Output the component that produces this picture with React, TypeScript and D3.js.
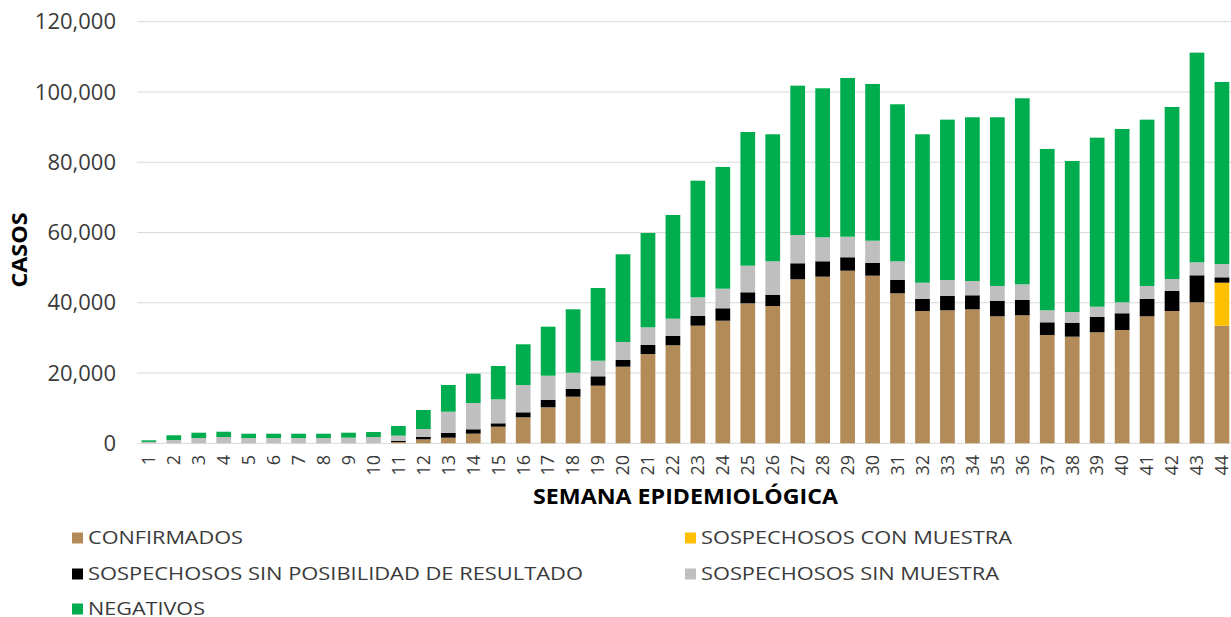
import React, { useEffect, useRef } from "react";
import * as d3 from "d3";

const weeks = [
  "1", "2", "3", "4", "5", "6", "7", "8", "9", "10", "11",
  "12", "13", "14", "15", "16", "17", "18", "19", "20", "21", "22",
  "23", "24", "25", "26", "27", "28", "29", "30", "31", "32", "33",
  "34", "35", "36", "37", "38", "39", "40", "41", "42", "43", "44",
];

const confirmados = [
  0, 0, 0, 0, 0, 0, 0, 0, 0, 0, 370,
  1140, 1600, 2740, 4730, 7400, 10250, 13270, 16400, 21810, 25420, 27900,
  33480, 34900, 39850, 39080, 46680, 47430, 49130, 47710, 42700, 37660, 37860,
  38140, 36150, 36440, 30830, 30350, 31600, 32250, 36150, 37660, 40140, 33480,
];

const conMuestra = [
  0, 0, 0, 0, 0, 0, 0, 0, 0, 0, 0,
  0, 0, 0, 0, 0, 0, 0, 0, 0, 0, 0,
  0, 0, 0, 0, 0, 0, 0, 0, 0, 0, 0,
  0, 0, 0, 0, 0, 0, 0, 0, 0, 0, 12240,
];

const sinPosibilidad = [
  0, 0, 0, 0, 0, 0, 0, 0, 0, 0, 280,
  650, 1330, 1250, 960, 1420, 2080, 2190, 2670, 1900, 2560, 2640,
  2760, 3530, 3130, 3220, 4560, 4380, 3820, 3610, 3780, 3420, 4070,
  3990, 4440, 4350, 3610, 3980, 4350, 4760, 4930, 5690, 7680, 1530,
];

const sinMuestra = [
  400, 940, 1510, 1790, 1510, 1510, 1510, 1510, 1600, 1790, 1530,
  2280, 6070, 7480, 6830, 7780, 6910, 4640, 4440, 5130, 5040, 4930,
  5320, 5580, 7580, 9510, 8050, 6830, 5860, 6350, 5330, 4640, 4550,
  4070, 4190, 4470, 3420, 3050, 2930, 3130, 3700, 3420, 3700, 3790,
];

const negativos = [
  450, 1340, 1510, 1510, 1220, 1220, 1220, 1220, 1420, 1420, 2750,
  5410, 7600, 8350, 9480, 11580, 13950, 18040, 20700, 24960, 26840, 29520,
  33190, 34640, 38050, 36150, 42510, 42410, 45180, 44610, 44690, 42240, 45640,
  46600, 48020, 52950, 45920, 42980, 48110, 49330, 47340, 48960, 59670, 51810,
];

const yTicks = [0, 20000, 40000, 60000, 80000, 100000, 120000];

const seriesKeys = ["conf", "conMuestra", "sinPos", "sinMuestra", "neg"];
const seriesColors: Record<string, string> = {
  conf: "#B38B59",
  conMuestra: "#FFC000",
  sinPos: "#000000",
  sinMuestra: "#BFBFBF",
  neg: "#00AD4E",
};

const legendItems = [
  { key: "conf", label: "CONFIRMADOS", col: 0, row: 0, len: 155 },
  { key: "conMuestra", label: "SOSPECHOSOS CON MUESTRA", col: 1, row: 0, len: 311 },
  { key: "sinPos", label: "SOSPECHOSOS SIN POSIBILIDAD DE RESULTADO", col: 0, row: 1, len: 495 },
  { key: "sinMuestra", label: "SOSPECHOSOS SIN MUESTRA", col: 1, row: 1, len: 298 },
  { key: "neg", label: "NEGATIVOS", col: 0, row: 2, len: 117 },
];

const FONT = "'Open Sans', 'DejaVu Sans', sans-serif";

export default function App() {
  const ref = useRef<SVGSVGElement | null>(null);

  useEffect(() => {
    const width = 1231;
    const svg = d3.select(ref.current);
    svg.selectAll("*").remove();

    const rows = weeks.map((w, i) => ({
      week: w,
      conf: confirmados[i],
      conMuestra: conMuestra[i],
      sinPos: sinPosibilidad[i],
      sinMuestra: sinMuestra[i],
      neg: negativos[i],
    }));

    const x = d3.scaleBand()
      .domain(weeks)
      .range([136.5, 1234.3])
      .paddingInner(0.41)
      .paddingOuter(0.2);

    const y = d3.scaleLinear()
      .domain([0, 120000])
      .range([443.3, 21.7]);

    // grid lines
    svg.append("g")
      .selectAll("line")
      .data(yTicks)
      .join("line")
      .attr("x1", 137)
      .attr("x2", width)
      .attr("y1", d => y(d))
      .attr("y2", d => y(d))
      .attr("stroke", "#D9D9D9")
      .attr("stroke-width", 1);

    // y labels
    svg.append("g")
      .selectAll("text")
      .data(yTicks)
      .join("text")
      .attr("x", 116)
      .attr("y", d => y(d))
      .attr("dy", "0.35em")
      .attr("text-anchor", "end")
      .attr("font-family", FONT)
      .attr("font-size", 22)
      .attr("fill", "#3A3A3A")
      .text(d => d3.format(",")(d));

    const stack = d3.stack<any>().keys(seriesKeys);
    const stacked = stack(rows);

    svg.append("g")
      .selectAll("g")
      .data(stacked)
      .join("g")
      .attr("fill", d => seriesColors[d.key])
      .selectAll("rect")
      .data(d => d)
      .join("rect")
      .attr("x", d => x(d.data.week) as number)
      .attr("y", d => y(d[1]))
      .attr("width", x.bandwidth())
      .attr("height", d => y(d[0]) - y(d[1]));

    // x labels
    svg.append("g")
      .selectAll("text")
      .data(weeks)
      .join("text")
      .attr("transform", d => `translate(${(x(d) as number) + x.bandwidth() / 2},455) rotate(-90)`)
      .attr("dy", "0.35em")
      .attr("text-anchor", "end")
      .attr("font-family", FONT)
      .attr("font-size", 18)
      .attr("fill", "#3A3A3A")
      .text(d => d);

    // axis titles
    svg.append("text")
      .attr("transform", "translate(20,250) rotate(-90)")
      .attr("dy", "0.35em")
      .attr("text-anchor", "middle")
      .attr("font-family", FONT)
      .attr("font-weight", "bold")
      .attr("font-size", 21)
      .attr("fill", "#000")
      .attr("textLength", 75)
      .attr("lengthAdjust", "spacingAndGlyphs")
      .text("CASOS");

    svg.append("text")
      .attr("x", 533)
      .attr("y", 497)
      .attr("dy", "0.35em")
      .attr("font-family", FONT)
      .attr("font-weight", "bold")
      .attr("font-size", 21)
      .attr("fill", "#000")
      .attr("textLength", 305)
      .attr("lengthAdjust", "spacingAndGlyphs")
      .text("SEMANA EPIDEMIOLÓGICA");

    // legend
    const lg = svg.append("g")
      .selectAll("g")
      .data(legendItems)
      .join("g")
      .attr("transform", d => `translate(${d.col === 0 ? 72 : 685},${[538, 574, 609][d.row]})`);

    lg.append("rect")
      .attr("x", 0)
      .attr("y", -5.5)
      .attr("width", 11)
      .attr("height", 11)
      .attr("fill", d => seriesColors[d.key]);

    lg.append("text")
      .attr("x", 16)
      .attr("y", 0)
      .attr("dy", "0.35em")
      .attr("font-family", FONT)
      .attr("font-size", 18)
      .attr("fill", "#3A3A3A")
      .attr("textLength", d => d.len)
      .attr("lengthAdjust", "spacingAndGlyphs")
      .text(d => d.label);
  }, []);

  return (
    <div style={{ position: "absolute", left: 0, top: 0 }}>
      <svg ref={ref} width={1231} height={617} style={{ display: "block", background: "#fff" }} />
    </div>
  );
}
